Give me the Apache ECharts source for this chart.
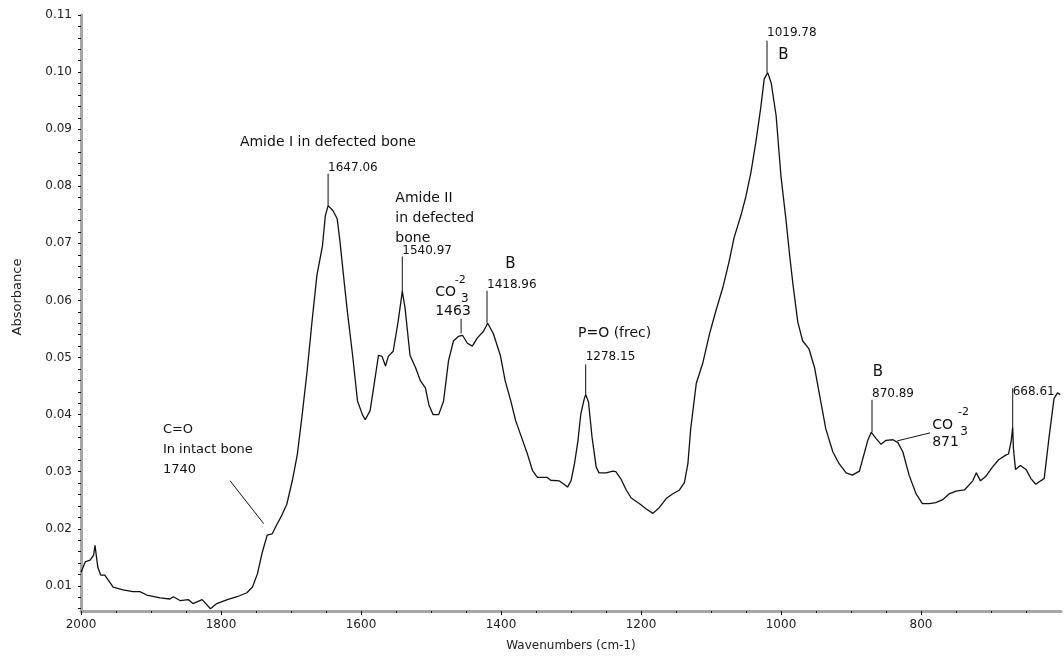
<!DOCTYPE html>
<html>
<head>
<meta charset="utf-8">
<script src="https://cdn.jsdelivr.net/npm/echarts@6/dist/echarts.min.js"></script>
<style>
  html, body { margin: 0; padding: 0; background: #fff; }
  #app { width: 1064px; height: 657px; }
</style>
</head>
<body>
<div id="app"></div>
<script>
// wavenumber (cm-1) and absorbance
const wavenumbers = [
  2000, 1994, 1987, 1982, 1980, 1976, 1972, 1966, 1961, 1954, 1940, 1926, 1916, 1906, 1887,
  1873, 1868, 1858, 1847, 1840, 1827, 1815, 1806, 1791, 1777, 1763, 1755, 1748, 1741, 1734,
  1727, 1720, 1713, 1706, 1698, 1691, 1684, 1677, 1670, 1663, 1655, 1651, 1647, 1640, 1634,
  1630, 1625, 1620, 1612, 1605, 1598, 1594, 1587, 1582, 1575, 1570, 1565, 1561, 1554, 1547,
  1541, 1537, 1530, 1522, 1515, 1508, 1503, 1497, 1489, 1482, 1475, 1468, 1461, 1455, 1448,
  1441, 1434, 1425, 1419, 1411, 1401, 1394, 1386, 1379, 1372, 1362, 1355, 1348, 1341, 1334,
  1329, 1317, 1310, 1305, 1300, 1295, 1290, 1286, 1281, 1279, 1275, 1270, 1264, 1260, 1250,
  1240, 1236, 1229, 1221, 1214, 1202, 1193, 1183, 1174, 1164, 1155, 1145, 1138, 1133, 1129,
  1121, 1112, 1102, 1093, 1083, 1074, 1067, 1057, 1050, 1043, 1036, 1029, 1024, 1019, 1014,
  1007, 1000, 993, 988, 983, 976, 969, 960, 952, 945, 936, 926, 917, 907, 898,
  888, 882, 876, 871, 864, 857, 850, 840, 833, 826, 817, 807, 798, 788, 779,
  769, 760, 750, 738, 726, 721, 715, 708, 698, 689, 679, 675, 671, 669, 668,
  665, 658, 650, 643, 636, 629, 624, 617, 610, 605, 601
];
const absorbance = [
  0.0124, 0.0142, 0.0145, 0.0154, 0.0171, 0.0133, 0.0119, 0.0119, 0.0110, 0.0098, 0.0093, 0.0090, 0.0090, 0.0084, 0.0079,
  0.0077, 0.0081, 0.0074, 0.0076, 0.0069, 0.0076, 0.0060, 0.0069, 0.0076, 0.0081, 0.0088, 0.0098, 0.0121, 0.0159, 0.0189,
  0.0191, 0.0208, 0.0224, 0.0243, 0.0285, 0.0330, 0.0400, 0.0476, 0.0563, 0.0644, 0.0696, 0.0748, 0.0766, 0.0757, 0.0743,
  0.0703, 0.0644, 0.0586, 0.0504, 0.0424, 0.0400, 0.0391, 0.0407, 0.0447, 0.0504, 0.0502, 0.0485, 0.0502, 0.0511, 0.0563,
  0.0616, 0.0586, 0.0504, 0.0482, 0.0459, 0.0447, 0.0417, 0.0400, 0.0400, 0.0424, 0.0494, 0.0529, 0.0537, 0.0539, 0.0525,
  0.0520, 0.0534, 0.0546, 0.0560, 0.0542, 0.0504, 0.0459, 0.0424, 0.0389, 0.0365, 0.0330, 0.0302, 0.0290, 0.0290, 0.0290,
  0.0285, 0.0284, 0.0278, 0.0273, 0.0284, 0.0314, 0.0355, 0.0401, 0.0428, 0.0435, 0.0422, 0.0361, 0.0308, 0.0298, 0.0298,
  0.0301, 0.0300, 0.0288, 0.0268, 0.0254, 0.0244, 0.0235, 0.0227, 0.0237, 0.0253, 0.0261, 0.0268, 0.0281, 0.0314, 0.0375,
  0.0455, 0.0489, 0.0542, 0.0582, 0.0623, 0.0669, 0.0710, 0.0750, 0.0783, 0.0824, 0.0877, 0.0937, 0.0988, 0.0999, 0.0981,
  0.0924, 0.0817, 0.0743, 0.0683, 0.0629, 0.0562, 0.0529, 0.0515, 0.0482, 0.0435, 0.0375, 0.0335, 0.0314, 0.0298, 0.0294,
  0.0301, 0.0328, 0.0355, 0.0369, 0.0358, 0.0348, 0.0355, 0.0356, 0.0351, 0.0335, 0.0294, 0.0261, 0.0244, 0.0244, 0.0246,
  0.0251, 0.0261, 0.0266, 0.0268, 0.0284, 0.0298, 0.0284, 0.0291, 0.0308, 0.0321, 0.0329, 0.0331, 0.0355, 0.0378, 0.0341,
  0.0304, 0.0311, 0.0304, 0.0288, 0.0278, 0.0284, 0.0288, 0.0361, 0.0428, 0.0438, 0.0435
];

const yTicks = [0.01, 0.02, 0.03, 0.04, 0.05, 0.06, 0.07, 0.08, 0.09, 0.10, 0.11];
const xTicks = [2000, 1800, 1600, 1400, 1200, 1000, 800];

// peak annotations: text placed in data space (wavenumber, absorbance)
const notes = [
  { text: 'Amide I in defected bone', wn: 1773, v: 0.0877, size: 14 },
  { text: '1647.06', wn: 1647, v: 0.0833, size: 12 },
  { text: 'Amide II\nin defected\nbone', wn: 1551, v: 0.0797, size: 14, top: true },
  { text: '1540.97', wn: 1541, v: 0.0687, size: 12 },
  { text: 'CO', wn: 1494, v: 0.0614, size: 14 },
  { text: '-2', wn: 1466, v: 0.0635, size: 11 },
  { text: '3', wn: 1457, v: 0.0603, size: 12 },
  { text: '1463', wn: 1494, v: 0.0581, size: 14 },
  { text: 'B', wn: 1394, v: 0.0664, size: 15 },
  { text: '1418.96', wn: 1420, v: 0.0628, size: 12 },
  { text: 'P=O (frec)', wn: 1290, v: 0.0542, size: 14 },
  { text: '1278.15', wn: 1279, v: 0.0502, size: 12 },
  { text: '1019.78', wn: 1020, v: 0.1069, size: 12 },
  { text: 'B', wn: 1004, v: 0.1029, size: 15 },
  { text: 'B', wn: 869, v: 0.0474, size: 15 },
  { text: '870.89', wn: 870, v: 0.0436, size: 12 },
  { text: 'CO', wn: 784, v: 0.0382, size: 14 },
  { text: '-2', wn: 747, v: 0.0405, size: 11 },
  { text: '3', wn: 744, v: 0.0370, size: 12 },
  { text: '871', wn: 784, v: 0.0351, size: 14 },
  { text: '668.61', wn: 669, v: 0.0440, size: 12 },
  { text: 'C=O\nIn intact bone\n1740', wn: 1883, v: 0.0392, size: 13, top: true }
];
// leader lines: [wn1, v1, wn2, v2]
const leaders = [
  [1647, 0.0766, 1647, 0.0822],
  [1541, 0.0612, 1541, 0.0677],
  [1457, 0.0542, 1457, 0.0568],
  [1420, 0.0560, 1420, 0.0617],
  [1279, 0.0434, 1279, 0.0488],
  [1020, 0.0999, 1020, 0.1055],
  [870, 0.0369, 870, 0.0426],
  [834, 0.0354, 787, 0.0368],
  [669, 0.0378, 669, 0.0446],
  [1787, 0.0284, 1739, 0.0209]
];

const yMinor = [];
for (let t = 0.006; t <= 0.1101; t += 0.002) yMinor.push(+t.toFixed(3));

const font = 'DejaVu Sans, Arial, sans-serif';
const chart = echarts.init(document.getElementById('app'));

chart.setOption({
  animation: false,
  backgroundColor: '#fff',
  grid: { left: 81, right: 3, top: 15, bottom: 43 },
  xAxis: {
    type: 'value',
    inverse: true,
    min: 600,
    max: 2000,
    interval: 200,
    name: 'Wavenumbers (cm-1)',
    nameLocation: 'middle',
    nameGap: 29,
    nameTextStyle: { color: '#222', fontSize: 12, fontFamily: font },
    axisLine: { lineStyle: { color: '#a6a6a6', width: 3 } },
    axisTick: { customValues: xTicks, length: 4, lineStyle: { color: '#111', width: 1 } },
    minorTick: { show: true, splitNumber: 4, length: 2, lineStyle: { color: '#111', width: 1 } },
    axisLabel: {
      customValues: xTicks,
      margin: 8,
      color: '#222',
      fontSize: 12,
      fontFamily: font,
      formatter: (v) => String(v)
    },
    splitLine: { show: false }
  },
  yAxis: {
    type: 'value',
    min: 0.0056,
    max: 0.11,
    axisLine: { show: true, lineStyle: { color: '#a6a6a6', width: 3 } },
    axisTick: { customValues: yMinor, length: 3, lineStyle: { color: '#111', width: 1 } },
    axisLabel: {
      customValues: yTicks,
      margin: 9,
      color: '#222',
      fontSize: 12,
      fontFamily: font,
      formatter: (v) => v.toFixed(2)
    },
    splitLine: { show: false }
  },
  series: [{
    type: 'line',
    data: wavenumbers.map((w, i) => [w, absorbance[i]]),
    showSymbol: false,
    smooth: false,
    lineStyle: { color: '#111', width: 1.3 }
  }]
});

const toPx = (wn, v) => chart.convertToPixel({ gridIndex: 0 }, [wn, v]);
const graphics = [];
notes.forEach((n) => {
  const p = toPx(n.wn, n.v);
  graphics.push({
    type: 'text',
    x: p[0],
    y: p[1],
    style: {
      text: n.text,
      fill: '#111',
      fontSize: n.size,
      fontFamily: font,
      align: 'left',
      verticalAlign: n.top ? 'top' : 'middle',
      lineHeight: 20
    }
  });
});
leaders.forEach((l) => {
  const a = toPx(l[0], l[1]);
  const b = toPx(l[2], l[3]);
  graphics.push({
    type: 'line',
    shape: { x1: a[0], y1: a[1], x2: b[0], y2: b[1] },
    style: { stroke: '#111', lineWidth: 1 }
  });
});
graphics.push({
  type: 'text',
  x: 18,
  y: 297,
  rotation: Math.PI / 2,
  style: {
    text: 'Absorbance',
    fill: '#222',
    fontSize: 13,
    fontFamily: font,
    align: 'center',
    verticalAlign: 'middle'
  }
});
chart.setOption({ graphic: graphics });
</script>
</body>
</html>
